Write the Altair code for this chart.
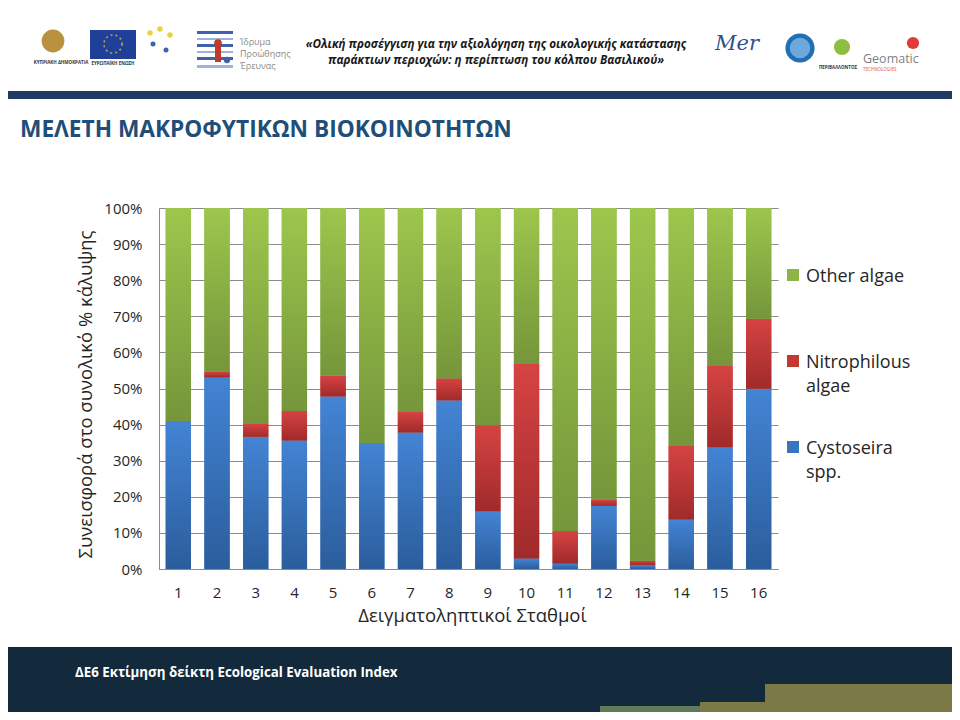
import altair as alt
import pandas as pd

# ---------------- data ----------------
stations = [str(i) for i in range(1, 17)]
cystoseira = [41.0, 53.1, 36.6, 35.6, 47.8, 34.9, 37.8, 46.7, 16.0, 2.9, 1.5, 17.5, 1.1, 13.7, 33.7, 49.9]
nitrophilous = [0.0, 1.6, 3.6, 8.2, 5.7, 0.0, 5.7, 6.1, 23.8, 54.0, 9.0, 1.7, 1.2, 20.4, 22.5, 19.4]
other_algae = [59.0, 45.3, 59.8, 56.2, 46.5, 65.1, 56.5, 47.2, 60.2, 43.1, 89.5, 80.8, 97.7, 65.9, 43.8, 30.7]
series_names = ["Cystoseira spp.", "Nitrophilous algae", "Other algae"]
legend_order = ["Other algae", "Nitrophilous algae", "Cystoseira spp."]
legend_labels = ["Other algae", "Nitrophilous\nalgae", "Cystoseira\nspp."]
legend_colors = ["#8CB545", "#C2392F", "#3A74C0"]
y_ticks = [0, 10, 20, 30, 40, 50, 60, 70, 80, 90, 100]

rows = []
for k, (name, vals) in enumerate(zip(series_names, [cystoseira, nitrophilous, other_algae])):
    for s, v in zip(stations, vals):
        rows.append({"station": s, "series": name, "value": v, "order": k})
df = pd.DataFrame(rows)

FONT = "Open Sans"
OX, OY = 159, 208  # page position of the plot origin

gradients = {
    "Cystoseira spp.": ("#4384D4", "#2B5D9C"),
    "Nitrophilous algae": ("#D64343", "#A02A2A"),
    "Other algae": ("#9DC64D", "#75963A"),
}

xenc = alt.X("station:O", sort=stations,
             scale=alt.Scale(paddingInner=0.346, paddingOuter=0.173),
             axis=alt.Axis(title="Δειγματοληπτικοί Σταθμοί", labelAngle=0, ticks=False,
                           domainColor="#8C8C8C", labelFont=FONT, labelFontSize=15,
                           labelColor="#262626", labelPadding=16, titleFont=FONT,
                           titleFontSize=18.5, titleFontWeight="normal", titleColor="#262626",
                           titlePadding=6, titleX=313))
yenc = alt.Y("y0:Q", scale=alt.Scale(domain=[0, 100], nice=False),
             axis=alt.Axis(values=y_ticks, labelExpr="datum.value + '%'", ticks=False,
                           labelOverlap=False, grid=True, gridColor="#8C8C8C",
                           domainColor="#8C8C8C", labelFont=FONT, labelFontSize=15,
                           labelColor="#262626", labelPadding=17,
                           title="Συνεισφορά στο συνολικό % κάλυψης",
                           titleFont=FONT, titleFontSize=18.5, titleFontWeight="normal",
                           titleColor="#262626", titlePadding=8, titleY=186))

base = alt.Chart(df).transform_stack(
    stack="value", groupby=["station"], as_=["y0", "y1"], sort=[alt.SortField("order")]
)

bars = base.mark_bar().encode(
    x=xenc, y=yenc, y2="y1:Q",
    color=alt.Color("series:N", scale=alt.Scale(domain=legend_order, range=legend_colors),
                    legend=None),
)

overlays = []
for name in series_names:
    top, bot = gradients[name]
    overlays.append(
        base.transform_filter(alt.datum.series == name).mark_bar(
            fill={"gradient": "linear", "x1": 0, "x2": 0, "y1": 0, "y2": 1,
                  "stops": [{"offset": 0, "color": top}, {"offset": 1, "color": bot}]}
        ).encode(x=xenc, y=yenc, y2="y1:Q")
    )

# ---------------- legend (drawn beside the plot, as in the slide) ----------------
leg_y = [275, 361, 447]
leg = pd.DataFrame({"label": legend_labels, "c": legend_colors, "yc": leg_y})
leg["x"] = 787 - OX
leg["x2"] = 799 - OX
leg["y"] = leg["yc"] - 6 - OY
leg["y2"] = leg["yc"] + 6 - OY
leg["tx"] = 806 - OX
leg["ty"] = leg["yc"] + 6.5 - OY
legend_boxes = alt.Chart(leg).mark_rect().encode(
    x=alt.X("x:Q", scale=None, axis=None), x2="x2:Q",
    y=alt.Y("y:Q", scale=None, axis=None), y2="y2:Q",
    fill=alt.Fill("c:N", scale=None, legend=None),
)
legend_text = alt.Chart(leg).mark_text(
    align="left", baseline="alphabetic", lineBreak="\n", lineHeight=24,
    font=FONT, fontSize=18, color="#262626"
).encode(
    x=alt.X("tx:Q", scale=None, axis=None), y=alt.Y("ty:Q", scale=None, axis=None),
    text="label:N",
)

# ---------------- slide decorations (page coordinates) ----------------
rects = pd.DataFrame([
    {"x": 0, "x2": 960, "y": 91, "y2": 99, "c": "#1F3B5F"},
    {"x": 0, "x2": 960, "y": 647, "y2": 720, "c": "#122A3B"},
    {"x": 765, "x2": 960, "y": 684, "y2": 720, "c": "#7B7A46"},
    {"x": 700, "x2": 765, "y": 702, "y2": 720, "c": "#7B7A46"},
    {"x": 600, "x2": 700, "y": 706, "y2": 720, "c": "#5E7A5A"},
    {"x": 90, "x2": 136, "y": 30, "y2": 59, "c": "#1F3F99"},
    {"x": 197, "x2": 233, "y": 31, "y2": 34, "c": "#3F62AA"},
    {"x": 197, "x2": 233, "y": 38, "y2": 40, "c": "#9DB3DD"},
    {"x": 197, "x2": 233, "y": 44, "y2": 47, "c": "#3F62AA"},
    {"x": 197, "x2": 233, "y": 51, "y2": 53, "c": "#9DB3DD"},
    {"x": 197, "x2": 233, "y": 57, "y2": 60, "c": "#3F62AA"},
    {"x": 197, "x2": 233, "y": 65, "y2": 68, "c": "#9DB3DD"},
    {"x": 215, "x2": 221, "y": 45, "y2": 62, "c": "#C0392B"},
])
rects[["x", "x2"]] -= OX
rects[["y", "y2"]] -= OY
rect_layer = alt.Chart(rects).mark_rect().encode(
    x=alt.X("x:Q", scale=None, axis=None), x2="x2:Q",
    y=alt.Y("y:Q", scale=None, axis=None), y2="y2:Q",
    fill=alt.Fill("c:N", scale=None, legend=None),
)

shapes = pd.DataFrame([
    {"x": 53, "y": 41, "s": 520, "c": "#B8923F"},
    {"x": 800, "y": 48, "s": 850, "c": "#1F6FB2"},
    {"x": 800, "y": 48, "s": 420, "c": "#6FA8DC"},
    {"x": 913, "y": 43, "s": 150, "c": "#E03A3A"},
    {"x": 842, "y": 47, "s": 260, "c": "#8DBE3F"},
    {"x": 218, "y": 43, "s": 60, "c": "#C0392B"},
    {"x": 227, "y": 60, "s": 40, "c": "#3F62AA"},
    {"x": 150, "y": 33, "s": 30, "c": "#E9D33A"},
    {"x": 160, "y": 29, "s": 30, "c": "#E9D33A"},
    {"x": 170, "y": 35, "s": 30, "c": "#E9D33A"},
    {"x": 153, "y": 44, "s": 25, "c": "#3F62AA"},
    {"x": 166, "y": 50, "s": 25, "c": "#3F62AA"},
])
shapes["x"] -= OX
shapes["y"] -= OY
shape_layer = alt.Chart(shapes).mark_circle(opacity=1).encode(
    x=alt.X("x:Q", scale=None, axis=None), y=alt.Y("y:Q", scale=None, axis=None),
    size=alt.Size("s:Q", scale=None, legend=None),
    fill=alt.Fill("c:N", scale=None, legend=None),
)

eu_ring = pd.DataFrame([{"x": 113, "y": 44}])
eu_ring["x"] -= OX
eu_ring["y"] -= OY
eu_layer = alt.Chart(eu_ring).mark_point(
    filled=False, size=330, stroke="#F2D22E", strokeWidth=1.6, strokeDash=[2, 3]
).encode(x=alt.X("x:Q", scale=None, axis=None), y=alt.Y("y:Q", scale=None, axis=None))


def text_layer(items, **mark):
    t = pd.DataFrame(items)
    t["x"] -= OX
    t["y"] -= OY
    return alt.Chart(t).mark_text(baseline="middle", **mark).encode(
        x=alt.X("x:Q", scale=None, axis=None), y=alt.Y("y:Q", scale=None, axis=None),
        text="t:N",
    )


header_quote = text_layer([
    {"x": 496, "y": 44, "t": "«Ολική προσέγγιση για την αξιολόγηση της οικολογικής κατάστασης"},
    {"x": 496, "y": 60, "t": "παράκτιων περιοχών: η περίπτωση του κόλπου Βασιλικού»"},
], align="center", font=FONT, fontSize=11.7, fontWeight="bold", fontStyle="italic", color="#1A1A1A")

title = text_layer([
    {"x": 20, "y": 130, "t": "ΜΕΛΕΤΗ ΜΑΚΡΟΦΥΤΙΚΩΝ ΒΙΟΚΟΙΝΟΤΗΤΩΝ"},
], align="left", font=FONT, fontSize=22.7, fontWeight="bold", color="#1F4E79")

footer = text_layer([
    {"x": 75, "y": 673, "t": "ΔΕ6 Εκτίμηση δείκτη Ecological Evaluation Index"},
], align="left", font=FONT, fontSize=13.3, fontWeight="bold", color="#FFFFFF")

logo_small = text_layer([
    {"x": 61, "y": 63, "t": "ΚΥΠΡΙΑΚΗ ΔΗΜΟΚΡΑΤΙΑ"},
    {"x": 113, "y": 64, "t": "ΕΥΡΩΠΑΪΚΗ ΕΝΩΣΗ"},
    {"x": 838, "y": 68, "t": "ΠΕΡΙΒΑΛΛΟΝΤΟΣ"},
], align="center", font=FONT, fontSize=4.5, fontWeight="bold", color="#333333")

ipe = text_layer([
    {"x": 240, "y": 42, "t": "Ίδρυμα"},
    {"x": 240, "y": 54, "t": "Προώθησης"},
    {"x": 240, "y": 66, "t": "Έρευνας"},
], align="left", font=FONT, fontSize=9, color="#8A8A8A")

geomatic = text_layer([
    {"x": 863, "y": 59, "t": "Geomatic"},
], align="left", font=FONT, fontSize=12.5, color="#7F7F7F")
geomatic_sub = text_layer([
    {"x": 863, "y": 70, "t": "TECHNOLOGIES"},
], align="left", font=FONT, fontSize=4.5, color="#D9534F")
mer = text_layer([
    {"x": 737, "y": 44, "t": "Mer"},
], align="center", font="DejaVu Serif", fontSize=21, fontStyle="italic", color="#2F4F8F")

chart = alt.layer(
    rect_layer, shape_layer, eu_layer, header_quote, title, footer, logo_small, ipe,
    geomatic, geomatic_sub, mer, bars, *overlays, legend_boxes, legend_text
).properties(
    width=619, height=361,
    autosize=alt.AutoSizeParams(type="none"),
    padding={"left": 151, "top": 200, "right": 174, "bottom": 143},
).configure_view(stroke=None)

chart.save("out.html", embed_options={"renderer": "svg", "actions": False})
